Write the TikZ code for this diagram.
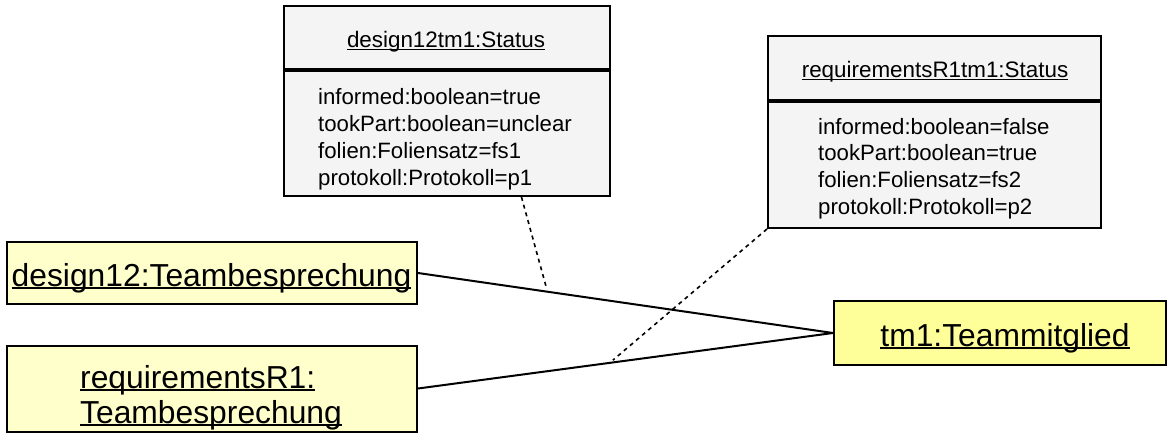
\documentclass[tikz,border=0pt]{standalone}
\usepackage{fontspec}
\setmainfont{Liberation Sans}
\usetikzlibrary{calc}
\definecolor{paleyellow}{HTML}{FFFFCC}
\definecolor{midyellow}{HTML}{FFFF99}
\definecolor{statusgray}{HTML}{F4F4F4}
\newcommand\myul[1]{\setbox0\hbox{#1}\rlap{\rule[-0.105em]{\wd0}{0.07em}}\box0}
\begin{document}
\begin{tikzpicture}[x=1pt,y=1pt,
  objbox/.style={draw=black,line width=2pt,fill=paleyellow,inner sep=0pt},
  tmbox/.style={draw=black,line width=2pt,fill=midyellow,inner sep=0pt},
  statbox/.style={draw=black,line width=2pt,fill=statusgray,inner sep=0pt},
  sepline/.style={line width=3.2pt},
  assoc/.style={line width=2pt},
  linkline/.style={line width=1.6pt,dash pattern=on 4pt off 4pt},
  bigtxt/.style={inner sep=0pt,font=\fontsize{31.8}{38}\selectfont},
  attrtxt/.style={inner sep=0pt,anchor=base west,font=\fontsize{22.2}{26.8}\selectfont},
  headtxt/.style={inner sep=0pt,anchor=base,font=\fontsize{22.4}{27}\selectfont}]
\useasboundingbox (0,0) rectangle (1167,432);

% status boxes
\node[statbox,minimum width=326pt,minimum height=190pt] (s1) at (447,331) {};
\node[statbox,minimum width=333pt,minimum height=192pt] (s2) at (934.5,300) {};
\draw[sepline] (s1.west |- 0,362) -- (s1.east |- 0,362);
\draw[sepline] (s2.west |- 0,331) -- (s2.east |- 0,331);

\node[headtxt] (h1) at (446,384) {\myul{design12tm1:Status}};
\node[attrtxt] (a11) at (318,327) {informed:boolean=true};
\node[attrtxt] (a12) at (318,300.5) {tookPart:boolean=unclear};
\node[attrtxt] (a13) at (318,273.5) {folien:Foliensatz=fs1};
\node[attrtxt] (a14) at (318,246.5) {protokoll:Protokoll=p1};

\node[headtxt] (h2) at (935,354) {\myul{requirementsR1tm1:Status}};
\node[attrtxt] (a21) at (818,298) {informed:boolean=false};
\node[attrtxt] (a22) at (818,271.5) {tookPart:boolean=true};
\node[attrtxt] (a23) at (818,244.5) {folien:Foliensatz=fs2};
\node[attrtxt] (a24) at (818,217.5) {protokoll:Protokoll=p2};

% object boxes
\node[objbox,minimum width=410pt,minimum height=62pt] (d) at (212,159) {};
\node[objbox,minimum width=410pt,minimum height=86pt] (r) at (212,43.5) {};
\node[tmbox,minimum width=332pt,minimum height=64pt] (t) at (1000,99) {};

\node[bigtxt,anchor=base] (dl) at (211.5,146) {\myul{design12:Teambesprechung}};
\node[bigtxt,anchor=base west] (rl1) at (80,44) {\myul{requirementsR1:}};
\node[bigtxt,anchor=base west] (rl2) at (80,9) {\myul{Teambesprechung}};
\node[bigtxt,anchor=base] (tl) at (1005,86) {\myul{tm1:Teammitglied}};

% associations
\draw[assoc] (d.east) -- (t.west) coordinate[pos=0.312] (m1);
\draw[assoc] (r.east) -- (t.west) coordinate[pos=0.462] (m2);

% association-class links
\coordinate (c1) at ($(s1.south west)!0.727!(s1.south east)$);
\draw[linkline] (c1) -- ($(c1)!0.96!(m1)$);
\draw[linkline] (s2.south west) -- ($(s2.south west)!0.98!(m2)$);
\end{tikzpicture}
\end{document}
